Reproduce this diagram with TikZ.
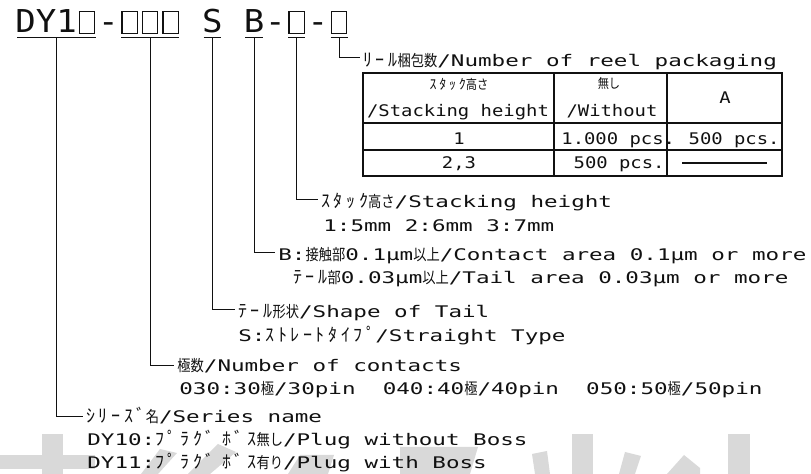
\documentclass[tikz,border=0pt]{standalone}
\usepackage{fontspec}
\usepackage{xcolor}
\newfontfamily\codefont[FakeStretch=1.08]{DejaVu Sans Mono}
\newfontfamily\labelfont[FakeStretch=1.41]{DejaVu Sans Mono}
\newfontfamily\cellfont[FakeStretch=1.18]{DejaVu Sans Mono}
\newfontfamily\hwfont[LetterSpace=20]{Noto Sans CJK JP}
\newfontfamily\fwfont[FakeStretch=0.85]{Noto Sans CJK JP}
\newcommand{\hwkana}[1]{{\hwfont\fontsize{9}{9}\selectfont #1}}
\newcommand{\fwkanji}[1]{{\fwfont\fontsize{7.8}{8}\selectfont #1}}
\newcommand{\hwsmall}[1]{{\hwfont\fontsize{7}{7}\selectfont #1}}
\newcommand{\fwsmall}[1]{{\fwfont\fontsize{6.6}{7}\selectfont #1}}
\newcommand{\slotbox}{\makebox[10.24pt]{\fboxsep=0pt\fboxrule=0.6pt\fbox{\rule{0pt}{10.3pt}\hspace{7pt}}}}
\definecolor{inkdark}{HTML}{111111}
\definecolor{markgray}{HTML}{D9D9D9}
\usetikzlibrary{positioning,calc}

\begin{document}
\begin{tikzpicture}[x=0.5pt, y=-0.5pt,
    code/.style={font=\codefont\fontsize{15.75}{16}\selectfont, text=inkdark, inner sep=0pt, text depth=0pt, anchor=base west},
    lbl/.style={font=\labelfont\fontsize{8}{9}\selectfont, text=inkdark, inner xsep=1.5pt, inner ysep=0pt, anchor=base west},
    cell/.style={font=\cellfont\fontsize{8}{9}\selectfont, text=inkdark, inner sep=0pt},
    lead/.style={draw=inkdark, line width=0.5pt},
    grid/.style={draw=inkdark, line width=0.6pt},
  ]
    \useasboundingbox (0,0) rectangle (811,474);

    % watermark, cut off at the bottom edge
    \fill[markgray] (42,434) rectangle (63,474);
    \fill[markgray] (0,455) rectangle (95,469);
    \fill[markgray] (160,449) -- (177,453) -- (158,474) -- (141,474) -- cycle;
    \fill[markgray] (218,444) -- (236,452) -- (210,474) -- (188,474) -- cycle;
    \fill[markgray] (300,455) -- (334,455) -- (328,474) -- (288,474) -- cycle;
    \fill[markgray] (400,447) -- (478,447) -- (470,474) -- (400,474) -- cycle;
    \fill[markgray] (532,454) -- (547,451) -- (550,474) -- (535,474) -- cycle;
    \fill[markgray] (572,434) rectangle (593,474);
    \fill[markgray] (625,452) -- (641,456) -- (635,474) -- (619,474) -- cycle;
    \fill[markgray] (667,474) -- (684,455) -- (700,468) -- (700,474) -- cycle;
    \fill[markgray] (728,434) rectangle (750,474);

    % part number
    \node[code] (series) at (15,33) {DY1\slotbox};
    \node[code, base right=0pt of series] (dashA) {-};
    \node[code, base right=0pt of dashA] (contacts) {\slotbox\slotbox\slotbox};
    \node[code, base right=10.24pt of contacts] (tail) {S};
    \node[code, base right=10.24pt of tail] (plating) {B};
    \node[code, base right=0pt of plating] (dashB) {-};
    \node[code, base right=0pt of dashB] (stack) {\slotbox};
    \node[code, base right=0pt of stack] (dashC) {-};
    \node[code, base right=0pt of dashC] (reel) {\slotbox};
    \foreach \n in {series,contacts,tail,plating,stack,reel}
      \draw[lead] ([xshift=1pt,yshift=-2pt]\n.south west) -- ([xshift=-1pt,yshift=-2pt]\n.south east);

    % labels
    \node[lbl] (reelLbl) at (360,67) {\hwkana{ﾘｰﾙ}\fwkanji{梱包数}/Number of reel packaging};
    \node[lbl] (stackLbl) at (318,208) {\hwkana{ｽﾀｯｸ}\fwkanji{高さ}/Stacking height};
    \node[lbl] (stackVal) at (320,232) {1:5mm 2:6mm 3:7mm};
    \node[lbl] (platLbl) at (275,261) {B:\fwkanji{接触部}0.1μm\fwkanji{以上}/Contact area 0.1μm or more};
    \node[lbl] (platTail) at (290,284) {\hwkana{ﾃｰﾙ}\fwkanji{部}0.03μm\fwkanji{以上}/Tail area 0.03μm or more};
    \node[lbl] (tailLbl) at (235,318) {\hwkana{ﾃｰﾙ}\fwkanji{形状}/Shape of Tail};
    \node[lbl] (tailVal) at (235,342) {S:\hwkana{ｽﾄﾚｰﾄﾀｲﾌﾟ}/Straight Type};
    \node[lbl] (pinLbl) at (174,372) {\fwkanji{極数}/Number of contacts};
    \node[lbl] (pinVal) at (176,395) {030:30\fwkanji{極}/30pin~~040:40\fwkanji{極}/40pin~~050:50\fwkanji{極}/50pin};
    \node[lbl] (serLbl) at (83,423) {\hwkana{ｼﾘｰｽﾞ}\fwkanji{名}/Series name};
    \node[lbl] (serOne) at (84,446) {DY10:\hwkana{ﾌﾟﾗｸﾞ ﾎﾞｽ}\fwkanji{無し}/Plug without Boss};
    \node[lbl] (serTwo) at (84,469) {DY11:\hwkana{ﾌﾟﾗｸﾞ ﾎﾞｽ}\fwkanji{有り}/Plug with Boss};

    % leaders
    \draw[lead] ([yshift=-2pt]reel.south) |- ([yshift=4.5pt]reelLbl.base west);
    \draw[lead] ([yshift=-2pt]stack.south) |- ([yshift=4pt]stackLbl.base west);
    \draw[lead] ([yshift=-2pt]plating.south) |- ([yshift=4pt]platLbl.base west);
    \draw[lead] ([yshift=-2pt]tail.south) |- ([yshift=4pt]tailLbl.base west);
    \draw[lead] ([yshift=-2pt]contacts.south) |- ([yshift=3pt]pinLbl.base west);
    \draw[lead] ([yshift=-2pt]series.south) |- ([yshift=3pt]serLbl.base west);

    % packaging table
    \draw[grid] (363,73) rectangle (782,176);
    \draw[grid] (363,123) -- (782,123);
    \draw[grid] (363,150) -- (782,150);
    \draw[grid] (554,73) -- (554,176);
    \draw[grid] (667,73) -- (667,176);
    \node[cell] (headStackJ) at (459,84) {\hwsmall{ｽﾀｯｸ}\fwsmall{高さ}};
    \node[cell, anchor=base] (headStack) at (458,117) {/Stacking height};
    \node[cell] (headNoneJ) at (609,84) {\fwsmall{無し}};
    \node[cell, anchor=base] (headNone) at (612,117) {/Without};
    \node[cell] (headA) at (725,98) {A};
    \node[cell, anchor=base] (rowOne) at (459,145) {1};
    \node[cell, anchor=base west] (rowOneNone) at (561,145) {1.000 pcs.};
    \node[cell, anchor=base east] (rowOneA) at (780,145) {500 pcs.};
    \node[cell, anchor=base] (rowTwo) at (459,169) {2,3};
    \node[cell, anchor=base east] (rowTwoNone) at (665,169) {500 pcs.};
    \draw[grid] (682,163) -- (767,163);
  \end{tikzpicture}
\end{document}
